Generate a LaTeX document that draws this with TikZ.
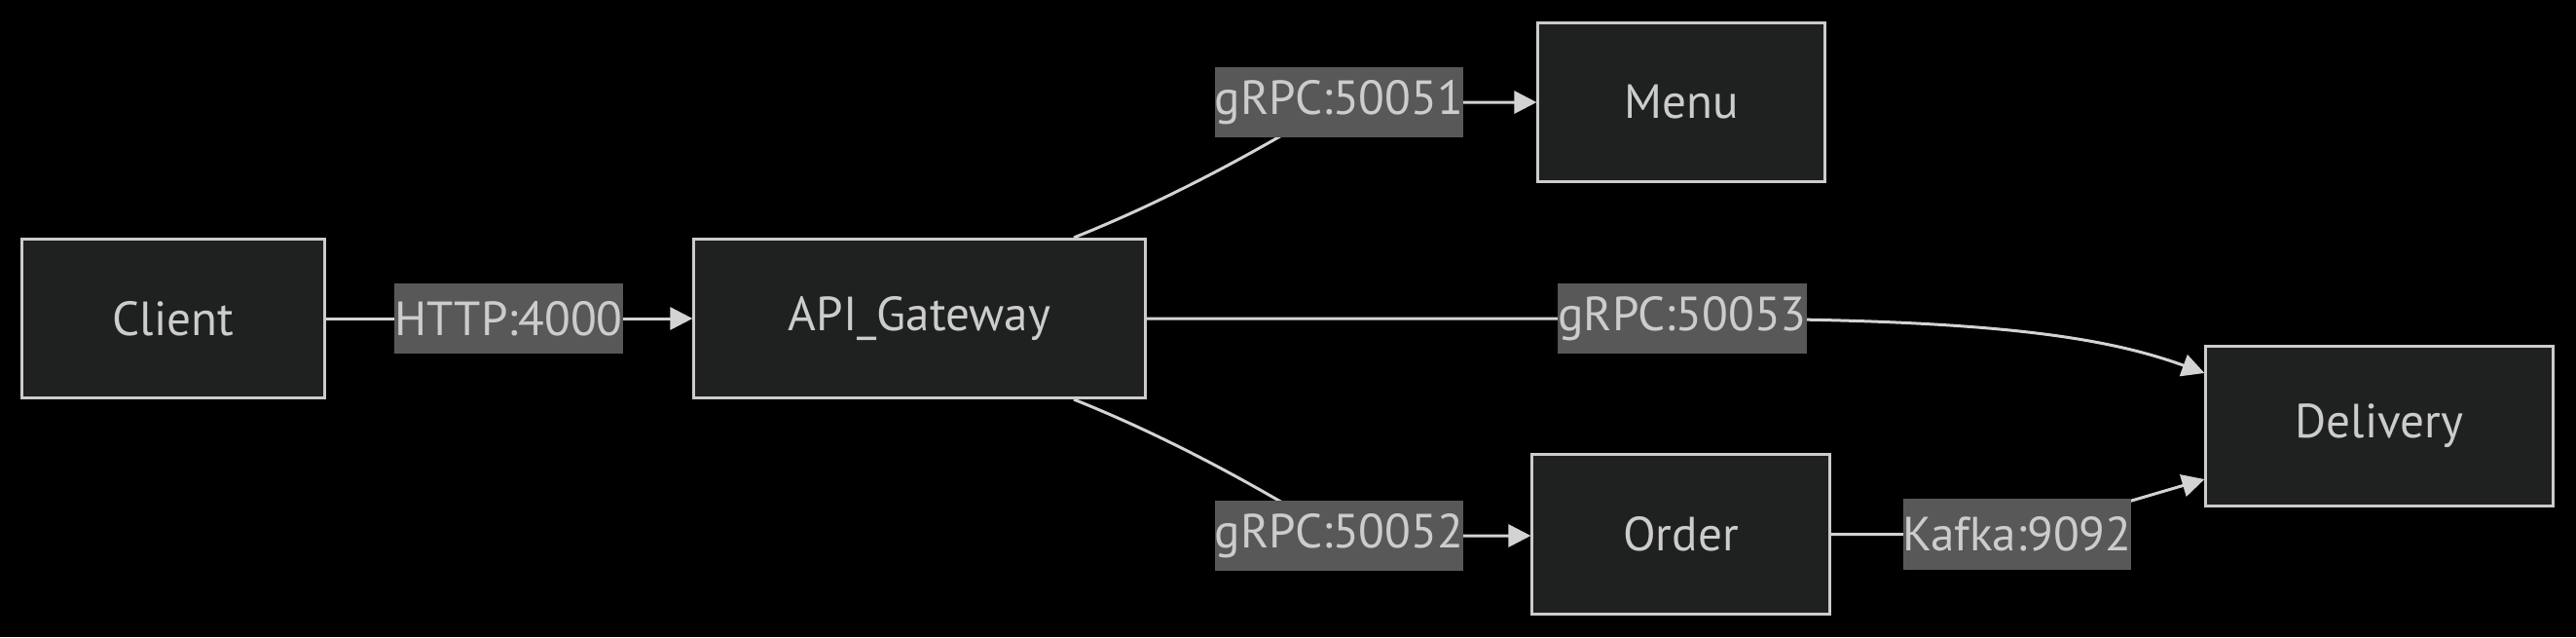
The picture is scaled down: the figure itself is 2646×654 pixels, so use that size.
\documentclass[tikz,border=0pt]{standalone}
\usepackage{fontspec}
\setmainfont{PT Sans}
\usetikzlibrary{arrows.meta,calc}
\definecolor{bgc}{HTML}{000000}
\definecolor{nodefill}{HTML}{1F2020}
\definecolor{nodeline}{HTML}{CCCCCC}
\definecolor{txt}{HTML}{CCCCCC}
\definecolor{lblfill}{HTML}{585858}
\definecolor{edgec}{HTML}{D3D3D3}
\pgfdeclarelayer{back}
\pgfdeclarelayer{edges}
\pgfsetlayers{back,edges,main}
\begin{document}
\begin{tikzpicture}[x=0.01cm,y=-0.01cm,
  box/.style={draw=nodeline,fill=nodefill,line width=0.03cm,text=txt,
    font=\fontsize{14}{16}\selectfont,minimum height=1.63cm,inner sep=0},
  lbl/.style={fill=lblfill,text=txt,font=\fontsize{14}{16}\selectfont,
    minimum height=0.72cm,inner sep=0},
  edge/.style={draw=edgec,line width=0.03cm,
    -{Triangle[length=0.23cm,width=0.23cm]}}]
\begin{pgfonlayer}{back}
\fill[bgc] (0,0) rectangle (2646,654);
\end{pgfonlayer}
\useasboundingbox (0,0) rectangle (2646,654);

\node[box,minimum width=3.10cm] (client) at (178,327) {Client};
\node[box,minimum width=4.63cm] (api) at (944.5,327) {API\_Gateway};
\node[box,minimum width=2.94cm] (menu) at (1727,105) {Menu};
\node[box,minimum width=3.05cm] (order) at (1726.5,548.5) {Order};
\node[box,minimum width=3.56cm] (delivery) at (2444,437.5) {Delivery};

\node[lbl] (l1) at (522.5,327) {HTTP:4000};
\node[lbl] (l2) at (1375.5,105) {gRPC:50051};
\node[lbl] (l3) at (1728,327) {gRPC:50053};
\node[lbl] (l4) at (1375.5,550) {gRPC:50052};
\node[lbl] (l5) at (2072,548.5) {Kafka:9092};

\begin{pgfonlayer}{edges}
\draw[edge] (client.east) -- (api.west);
\draw[edge] ($(api.north)+(158.5,0)$) .. controls +(150,-60) and +(-5,0) .. (l2.center) -- (menu.west);
\draw[edge] ($(api.south)+(158.5,0)$) .. controls +(150,60) and +(-5,0) .. (l4.center) -- (order.west |- l4.center);
\draw[edge] (api.east) -- (l3.center) .. controls +(300,0) and +(-110,-40) .. ($(delivery.west)+(0,-54.5)$);
\draw[edge] (order.east) -- (l5.center) -- ($(delivery.west)+(0,54.5)$);
\end{pgfonlayer}
\end{tikzpicture}
\end{document}
